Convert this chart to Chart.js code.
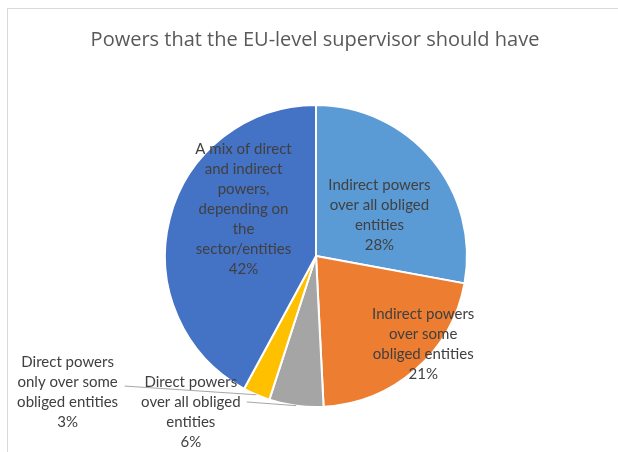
<!DOCTYPE html>
<html>
<head>
<meta charset="utf-8">
<script src="https://cdn.jsdelivr.net/npm/chart.js@4"></script>
<style>
  html, body { margin: 0; padding: 0; background: #fff; }
  #wrap { width: 618px; height: 452px; position: relative; }
</style>
</head>
<body>
<div id="wrap"><canvas id="myChart" width="618" height="452"></canvas></div>
<script>
// donnees
var titre = "Powers that the EU-level supervisor should have";
var categories = [
    ["Indirect powers", "over all obliged", "entities"],
    ["Indirect powers", "over some", "obliged entities"],
    ["Direct powers", "over all obliged", "entities"],
    ["Direct powers", "only over some", "obliged entities"],
    ["A mix of direct", "and indirect", "powers,", "depending on", "the", "sector/entities"]
];
var valeurs = [27.9, 21.3, 5.8, 2.9, 42.1];
var couleurs = ["#5B9BD5", "#ED7D31", "#A5A5A5", "#FFC000", "#4472C4"];

// place des etiquettes (en rayon, depuis le centre) + ligne de rappel
var placement = [
    { dx: 0.42, dy: -0.273 },
    { dx: 0.71, dy: 0.582 },
    { dx: -0.829, dy: 1.033, ligne: [56, -10] },
    { dx: -1.645, dy: 0.901, ligne: [57, -6] },
    { dx: -0.48, dy: -0.31 }
];

var cadre = {
    id: 'cadre',
    beforeDraw: function(chart) {
        var c = chart.ctx;
        c.save();
        c.fillStyle = '#fff';
        c.fillRect(0, 0, chart.width, chart.height);
        c.strokeStyle = '#d9d9d9';
        c.lineWidth = 1;
        c.strokeRect(7.5, 8.5, 900, 900);
        // titre
        c.font = "20px 'Open Sans'";
        c.fillStyle = '#595959';
        c.textAlign = 'center';
        c.textBaseline = 'middle';
        c.fillText(titre, 315, 40);
        c.restore();
    }
};

var etiquettes = {
    id: 'etiquettes',
    afterDatasetsDraw: function(chart) {
        var c = chart.ctx;
        var meta = chart.getDatasetMeta(0);
        var total = valeurs.reduce(function(a, b) { return a + b; }, 0);
        c.save();
        c.font = '15px Lato';
        c.fillStyle = '#404040';
        c.textAlign = 'center';
        c.textBaseline = 'middle';
        meta.data.forEach(function(arc, i) {
            var r = arc.outerRadius;
            var p = placement[i];
            var lignes = categories[i].concat([Math.round(valeurs[i] / total * 100) + '%']);
            var x = arc.x + p.dx * r;
            var y = arc.y + p.dy * r;
            var h = 20;
            var y0 = y - (lignes.length - 1) * h / 2;
            if (p.ligne) {
                var milieu = (arc.startAngle + arc.endAngle) / 2;
                c.save();
                c.strokeStyle = '#a6a6a6';
                c.lineWidth = 1;
                c.beginPath();
                c.moveTo(x + p.ligne[0], y + p.ligne[1]);
                c.lineTo(arc.x + Math.cos(milieu) * r, arc.y + Math.sin(milieu) * r);
                c.stroke();
                c.restore();
            }
            lignes.forEach(function(t, k) {
                c.fillText(t, x, y0 + k * h);
            });
        });
        c.restore();
    }
};

function dessiner() {
    var ctx = document.getElementById("myChart").getContext("2d");
    var myChart = new Chart(ctx, {
        type: "pie",
        data: {
            labels: categories.map(function(l) { return l.join(' '); }),
            datasets: [{
                data: valeurs,
                backgroundColor: couleurs,
                borderColor: "#fff",
                borderWidth: 2
            }]
        },
        options: {
            responsive: false,
            animation: false,
            layout: { padding: { left: 164, right: 150, top: 104, bottom: 44 } },
            plugins: {
                legend: { display: false },
                tooltip: { enabled: false },
                title: { display: false }
            }
        },
        plugins: [cadre, etiquettes]
    });
}

Promise.all([
    document.fonts.load("20px 'Open Sans'"),
    document.fonts.load("15px Lato")
]).then(dessiner, dessiner);
</script>
</body>
</html>
